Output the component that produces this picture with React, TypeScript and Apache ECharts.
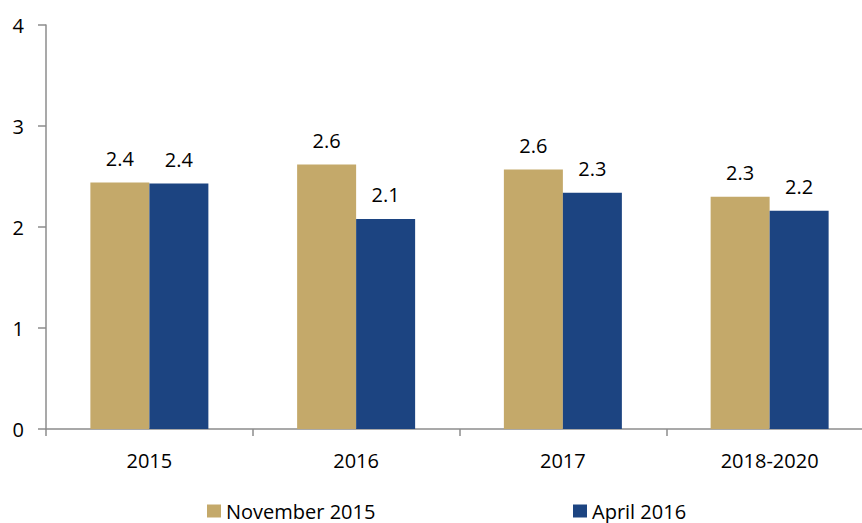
import React, { useEffect, useRef } from "react";
import * as echarts from "echarts";

const categories = ["2015", "2016", "2017", "2018-2020"];
const november2015 = [2.44, 2.62, 2.57, 2.3];
const april2016 = [2.43, 2.08, 2.34, 2.16];
const yTicks = [0, 1, 2, 3, 4];

const FONT = "'Open Sans', 'Noto Sans', sans-serif";
const AXIS_COLOR = "#8c8c8c";
const GOLD = "#c4a96a";
const BLUE = "#1c4481";
const TEXT = "#000";
const FS = 20;

export default function App() {
  const ref = useRef<HTMLDivElement>(null);
  useEffect(() => {
    if (!ref.current) return;
    const chart = echarts.init(ref.current, undefined, { renderer: "svg" });
    const label = {
      show: true,
      position: "top" as const,
      distance: 14,
      color: TEXT,
      fontSize: FS,
      fontFamily: FONT,
      formatter: (p: any) => Number(p.value).toFixed(1),
    };
    const legendBase = {
      top: 501,
      padding: 0,
      itemWidth: 14,
      itemHeight: 13,
      itemGap: 0,
      icon: "rect",
      textStyle: { fontSize: FS, color: TEXT, fontFamily: FONT },
    };
    chart.setOption({
      animation: false,
      textStyle: { fontFamily: FONT },
      grid: { left: 46, top: 25, bottom: 94, right: 7, containLabel: false },
      legend: [
        { ...legendBase, data: ["November 2015"], left: 207 },
        { ...legendBase, data: ["April 2016"], left: 573 },
      ],
      xAxis: {
        type: "category",
        data: categories,
        boundaryGap: true,
        axisLine: { lineStyle: { color: AXIS_COLOR, width: 1.5 } },
        axisTick: { show: true, length: 7, alignWithLabel: false, lineStyle: { color: AXIS_COLOR, width: 1.5 } },
        axisLabel: { fontSize: FS, color: TEXT, margin: 21, fontFamily: FONT },
        splitLine: { show: false },
      },
      yAxis: {
        type: "value",
        min: yTicks[0],
        max: yTicks[yTicks.length - 1],
        interval: 1,
        axisLine: { show: true, lineStyle: { color: AXIS_COLOR, width: 1.5 } },
        axisTick: { show: true, length: 8, lineStyle: { color: AXIS_COLOR, width: 1.5 } },
        axisLabel: { fontSize: FS, color: TEXT, margin: 22, fontFamily: FONT },
        splitLine: { show: false },
      },
      series: [
        {
          name: "November 2015",
          type: "bar",
          data: november2015,
          barWidth: 59,
          barGap: "0%",
          itemStyle: { color: GOLD },
          label,
        },
        {
          name: "April 2016",
          type: "bar",
          data: april2016,
          barWidth: 59,
          barGap: "0%",
          itemStyle: { color: BLUE },
          label,
        },
      ],
    });
    return () => chart.dispose();
  }, []);
  return (
    <div
      style={{
        position: "absolute",
        left: 0,
        top: 0,
        width: 862,
        height: 523,
        overflow: "hidden",
      }}
    >
      <div ref={ref} style={{ width: 880, height: 523 }} />
    </div>
  );
}
